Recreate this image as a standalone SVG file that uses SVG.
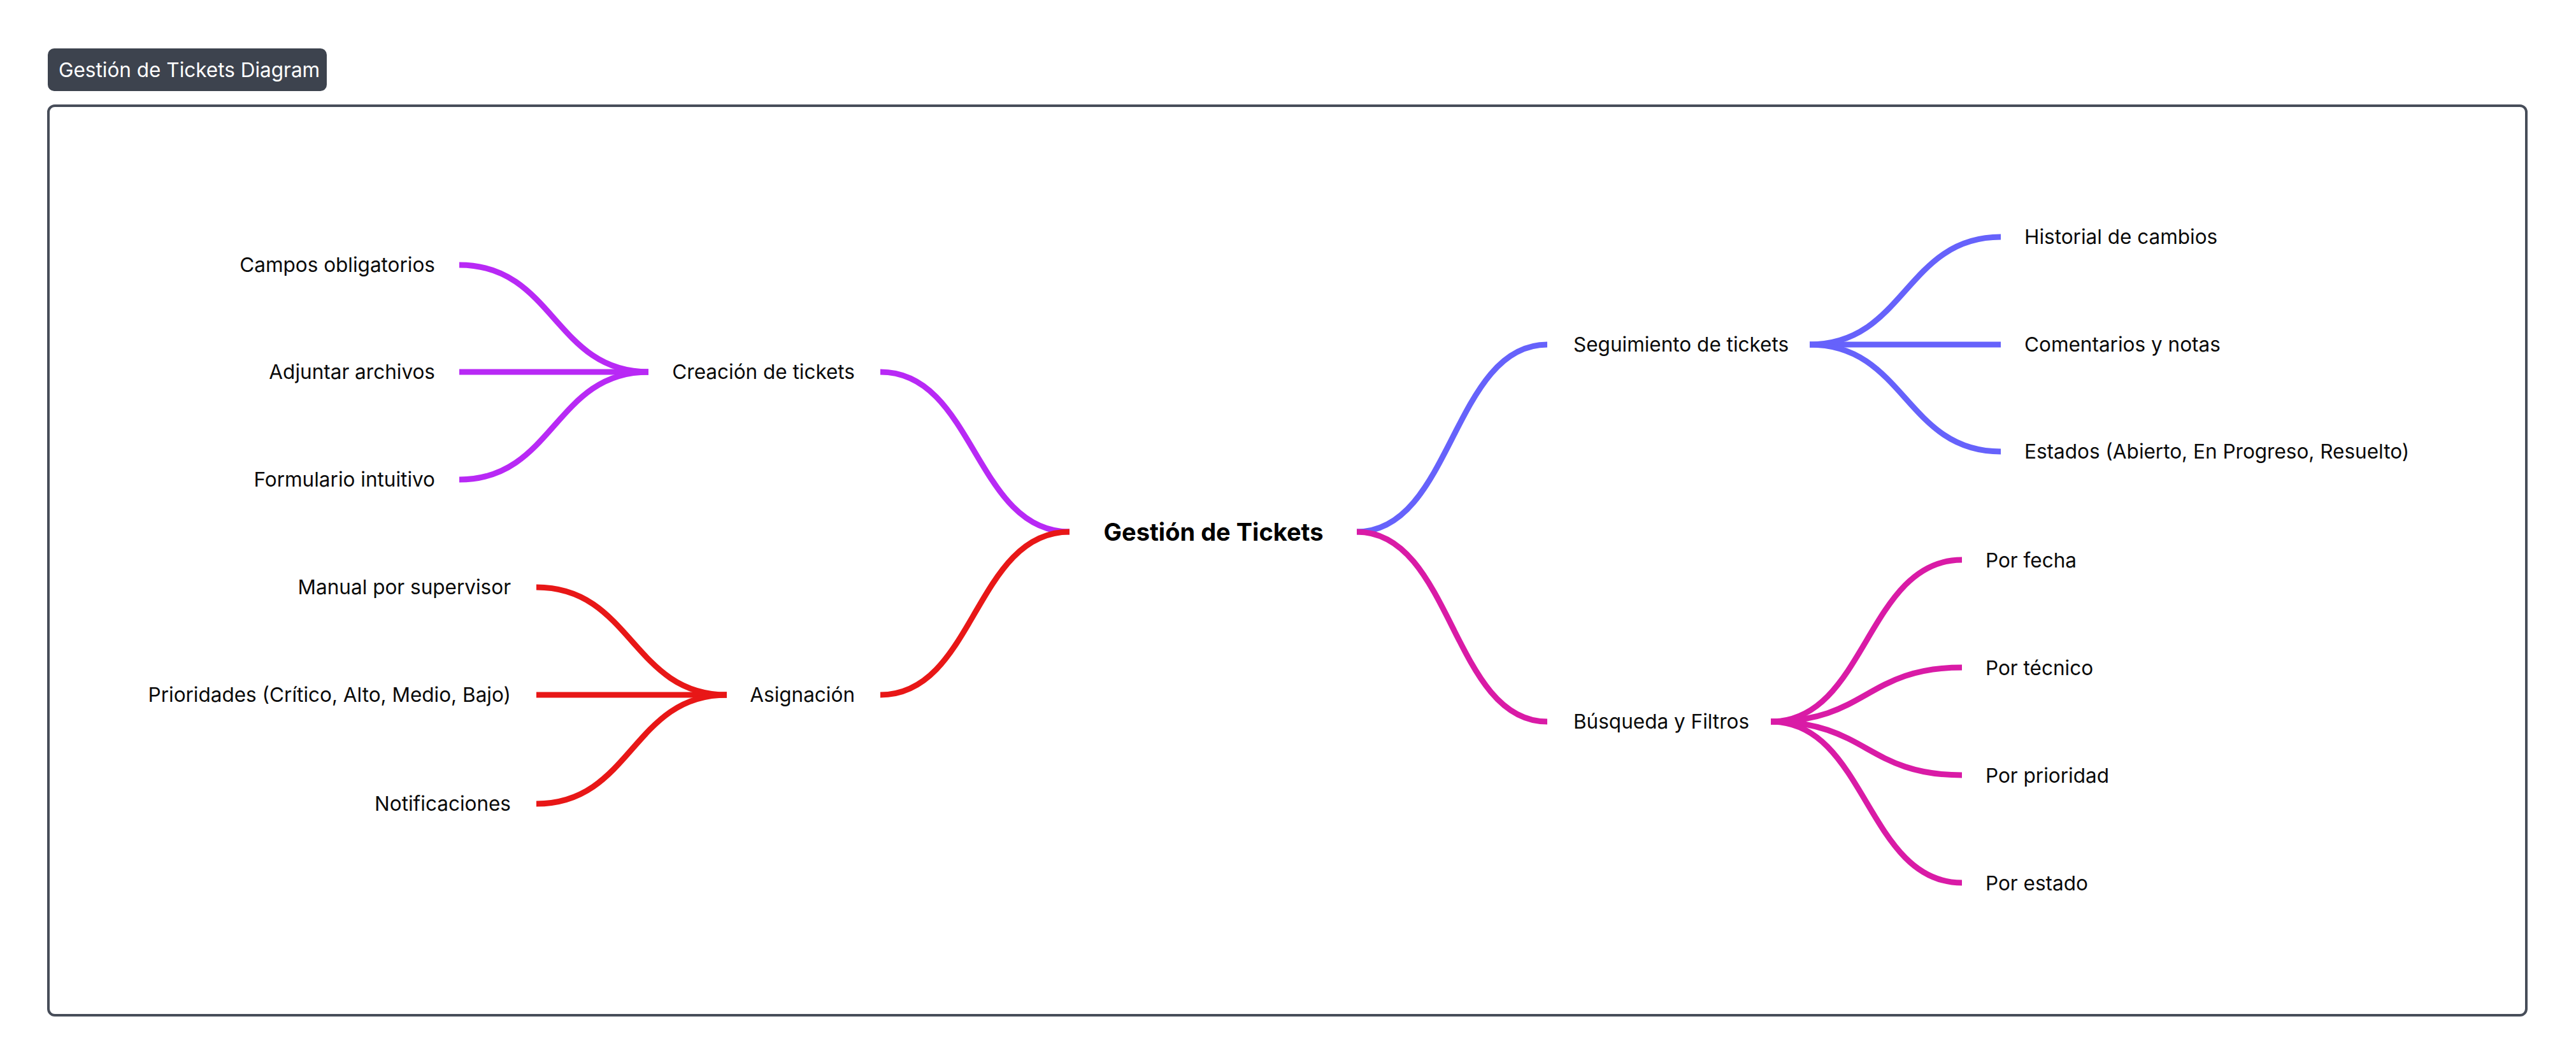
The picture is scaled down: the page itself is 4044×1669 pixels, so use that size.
<svg xmlns="http://www.w3.org/2000/svg" width="4044" height="1669" viewBox="0 0 4044 1669">
  <style>
    .lbl { font-family: Inter, "Noto Sans", "Liberation Sans", sans-serif; font-size: 31.5px; fill: #0a0a0a; }
    .end { text-anchor: end; }
    .center { font-family: Inter, "Noto Sans", "Liberation Sans", sans-serif; font-size: 38px; font-weight: 700; fill: #000; text-anchor: middle; }
    .title { font-family: Inter, "Noto Sans", "Liberation Sans", sans-serif; font-size: 31.5px; fill: #ffffff; }
    .c { fill: none; stroke-width: 9; stroke-linecap: butt; }
    .purple { stroke: #b829f5; }
    .red { stroke: #e81717; }
    .blue { stroke: #6662fb; }
    .magenta { stroke: #d91ba6; }
  </style>
  <rect x="0" y="0" width="4044" height="1669" fill="#ffffff"/>
  <g id="title">
    <rect x="75" y="76" width="438" height="67" rx="10" fill="#3d434e"/>
    <text class="title" x="92" y="121">Gestión de Tickets Diagram</text>
  </g>
  <rect id="frame" x="76" y="166" width="3890" height="1428" rx="10" fill="#ffffff" stroke="#474d59" stroke-width="4"/>
  <g id="connectors">
    <path class="c purple" d="M1382 584 C1530 584 1530 835 1679 835"/>
    <path class="c red" d="M1382 1091 C1530 1091 1530 835 1679 835"/>
    <path class="c blue" d="M2130 835 C2280 835 2280 541 2429 541"/>
    <path class="c magenta" d="M2130 835 C2280 835 2280 1133 2429 1133"/>
    <path class="c purple" d="M721 416 C870 416 870 584 1018 584"/>
    <path class="c purple" d="M721 584 L1018 584"/>
    <path class="c purple" d="M721 753 C870 753 870 584 1018 584"/>
    <path class="c red" d="M842 922 C992 922 992 1091 1141 1091"/>
    <path class="c red" d="M842 1091 L1141 1091"/>
    <path class="c red" d="M842 1262 C992 1262 992 1091 1141 1091"/>
    <path class="c blue" d="M2841 541 C2991 541 2991 372 3141 372"/>
    <path class="c blue" d="M2841 541 L3141 541"/>
    <path class="c blue" d="M2841 541 C2991 541 2991 709 3141 709"/>
    <path class="c magenta" d="M2780 1133 C2930 1133 2930 879 3080 879"/>
    <path class="c magenta" d="M2780 1133 C2930 1133 2930 1048 3080 1048"/>
    <path class="c magenta" d="M2780 1133 C2930 1133 2930 1217 3080 1217"/>
    <path class="c magenta" d="M2780 1133 C2930 1133 2930 1386 3080 1386"/>
  </g>
  <g id="root"><text class="center" x="1905" y="849">Gestión de Tickets</text></g>
  <g id="n-creacion"><text class="lbl end" x="1342" y="595">Creación de tickets</text></g>
  <g id="n-asignacion"><text class="lbl end" x="1342" y="1102">Asignación</text></g>
  <g id="n-seguimiento"><text class="lbl" x="2470" y="552">Seguimiento de tickets</text></g>
  <g id="n-busqueda"><text class="lbl" x="2470" y="1144">Búsqueda y Filtros</text></g>
  <g id="n-campos"><text class="lbl end" x="683" y="427">Campos obligatorios</text></g>
  <g id="n-adjuntar"><text class="lbl end" x="683" y="595">Adjuntar archivos</text></g>
  <g id="n-formulario"><text class="lbl end" x="683" y="764">Formulario intuitivo</text></g>
  <g id="n-manual"><text class="lbl end" x="802" y="933">Manual por supervisor</text></g>
  <g id="n-prioridades"><text class="lbl end" x="802" y="1102">Prioridades (Crítico, Alto, Medio, Bajo)</text></g>
  <g id="n-notificaciones"><text class="lbl end" x="802" y="1273">Notificaciones</text></g>
  <g id="n-historial"><text class="lbl" x="3178" y="383">Historial de cambios</text></g>
  <g id="n-comentarios"><text class="lbl" x="3178" y="552">Comentarios y notas</text></g>
  <g id="n-estados"><text class="lbl" x="3178" y="720">Estados (Abierto, En Progreso, Resuelto)</text></g>
  <g id="n-fecha"><text class="lbl" x="3117" y="891">Por fecha</text></g>
  <g id="n-tecnico"><text class="lbl" x="3117" y="1060">Por técnico</text></g>
  <g id="n-prioridad"><text class="lbl" x="3117" y="1229">Por prioridad</text></g>
  <g id="n-estado"><text class="lbl" x="3117" y="1398">Por estado</text></g>
</svg>
